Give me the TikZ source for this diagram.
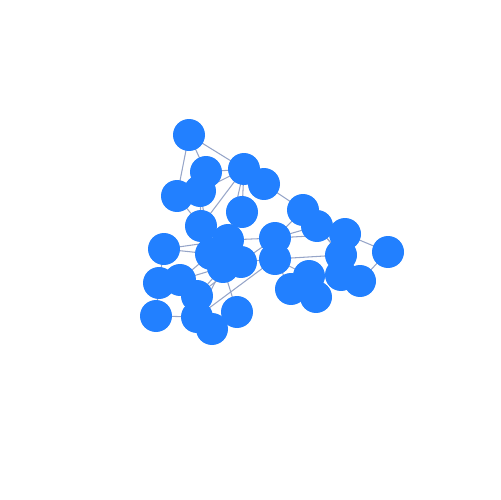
\documentclass[tikz,border=0pt]{standalone}
\usetikzlibrary{backgrounds}
\definecolor{nodeblue}{RGB}{34,128,255}
\definecolor{edgecol}{RGB}{150,165,200}
\begin{document}
\begin{tikzpicture}[x=0.02cm,y=-0.02cm,
  vert/.style={circle,fill=nodeblue,draw=none,minimum size=0.64cm,inner sep=0pt},
  edge/.style={draw=edgecol,line width=0.6pt}]
\useasboundingbox (0,0) rectangle (500,500);
\foreach \n/\x/\y in {1/189/135,2/206/172,3/244/169,4/264/184,5/177/196,6/200/191,7/242/212,8/201/226,9/164/249,10/228/240,11/211/254,12/223/267,13/241/262,14/275/238,15/275/259,16/303/210,17/317/226,18/345/234,19/341/255,20/388/252,21/341/275,22/360/281,23/309/276,24/291/289,25/316/297,26/159/283,27/180/280,28/197/296,29/156/316,30/197/317,31/212/329,32/237/312}
  \node[vert] (n\n) at (\x,\y) {};
\begin{scope}[on background layer]
\foreach \a/\b in {1/2,1/3,1/5,2/6,2/3,3/4,3/6,3/7,3/8,3/10,4/16,5/6,5/8,6/8,6/11,7/10,8/11,8/12,9/11,9/26,9/10,10/14,11/13,12/28,12/32,13/15,13/14,14/16,14/17,15/23,15/19,16/17,17/18,17/19,18/20,18/19,19/21,20/22,21/22,21/23,23/24,24/25,23/25,15/24,12/30,26/27,27/28,26/29,29/30,28/30,30/31,31/32,27/11,28/13,30/15,14/18,16/19,10/12,26/28,27/12}
  \draw[edge] (n\a.center) -- (n\b.center);
\end{scope}
\end{tikzpicture}
\end{document}
